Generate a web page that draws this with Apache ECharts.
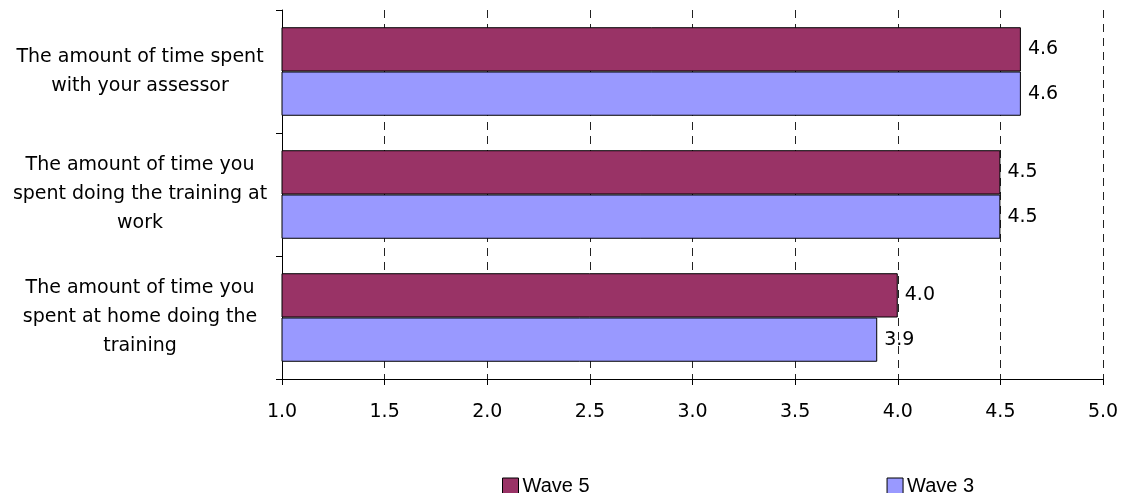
<!DOCTYPE html>
<html>
<head>
<meta charset="utf-8">
<script src="https://cdn.jsdelivr.net/npm/echarts@6/dist/echarts.min.js"></script>
<style>
  html, body { margin: 0; padding: 0; background: #fff; }
  #chart { width: 1126px; height: 493px; }
</style>
</head>
<body>
<div id="chart"></div>
<script>
// Satisfaction ratings by wave (mean scores on a 1–5 scale)
const categories = [
  'The amount of time spent\nwith your assessor',
  'The amount of time you\nspent doing the training at\nwork',
  'The amount of time you\nspent at home doing the\ntraining'
];
const seriesNames = ['Wave 5', 'Wave 3'];
const wave5 = [4.6, 4.5, 4.0];
const wave3 = [4.6, 4.5, 3.9];
const xTicks = { min: 1, max: 5, interval: 0.5 };

const colors = ['#993366', '#9999FF'];
const textFont = 'DejaVu Sans';

function barSeries(name, values, color) {
  return {
    name: name,
    type: 'bar',
    data: values,
    barGap: '0%',
    barCategoryGap: '28%',
    itemStyle: { color: color, borderColor: '#000', borderWidth: 1 },
    label: {
      show: true,
      position: 'right',
      distance: 7,
      color: '#000',
      fontFamily: textFont,
      fontSize: 19,
      formatter: p => p.value.toFixed(1)
    },
    emphasis: { disabled: true }
  };
}

const chart = echarts.init(document.getElementById('chart'), null, { renderer: 'canvas' });
chart.setOption({
  animation: false,
  backgroundColor: '#fff',
  grid: { left: 282, right: 23, top: 10, bottom: 114, containLabel: false },
  xAxis: {
    type: 'value',
    min: xTicks.min,
    max: xTicks.max,
    interval: xTicks.interval,
    axisLine: { show: true, lineStyle: { color: '#000', width: 1 } },
    axisTick: { show: true, length: 6, lineStyle: { color: '#000' } },
    axisLabel: {
      margin: 24,
      color: '#000',
      fontFamily: textFont,
      fontSize: 19,
      formatter: v => v.toFixed(1)
    },
    splitLine: { show: true, lineStyle: { color: '#222', type: [8, 6], width: 1 } }
  },
  yAxis: {
    type: 'category',
    data: categories,
    inverse: true,
    axisLine: { show: true, lineStyle: { color: '#000', width: 1 } },
    axisTick: { show: true, length: 6, lineStyle: { color: '#000' } },
    axisLabel: {
      align: 'center',
      margin: 142,
      color: '#000',
      fontFamily: textFont,
      fontSize: 19,
      lineHeight: 29
    },
    splitLine: { show: false }
  },
  legend: {
    data: seriesNames,
    left: 497,
    top: 471,
    itemWidth: 16,
    itemHeight: 16,
    itemGap: 297,
    icon: 'rect',
    itemStyle: { borderColor: '#000', borderWidth: 1 },
    textStyle: { fontFamily: 'Liberation Sans', fontSize: 20, color: '#000', padding: [0, 0, 0, -1] }
  },
  series: [
    barSeries(seriesNames[0], wave5, colors[0]),
    barSeries(seriesNames[1], wave3, colors[1])
  ]
});
</script>
</body>
</html>
